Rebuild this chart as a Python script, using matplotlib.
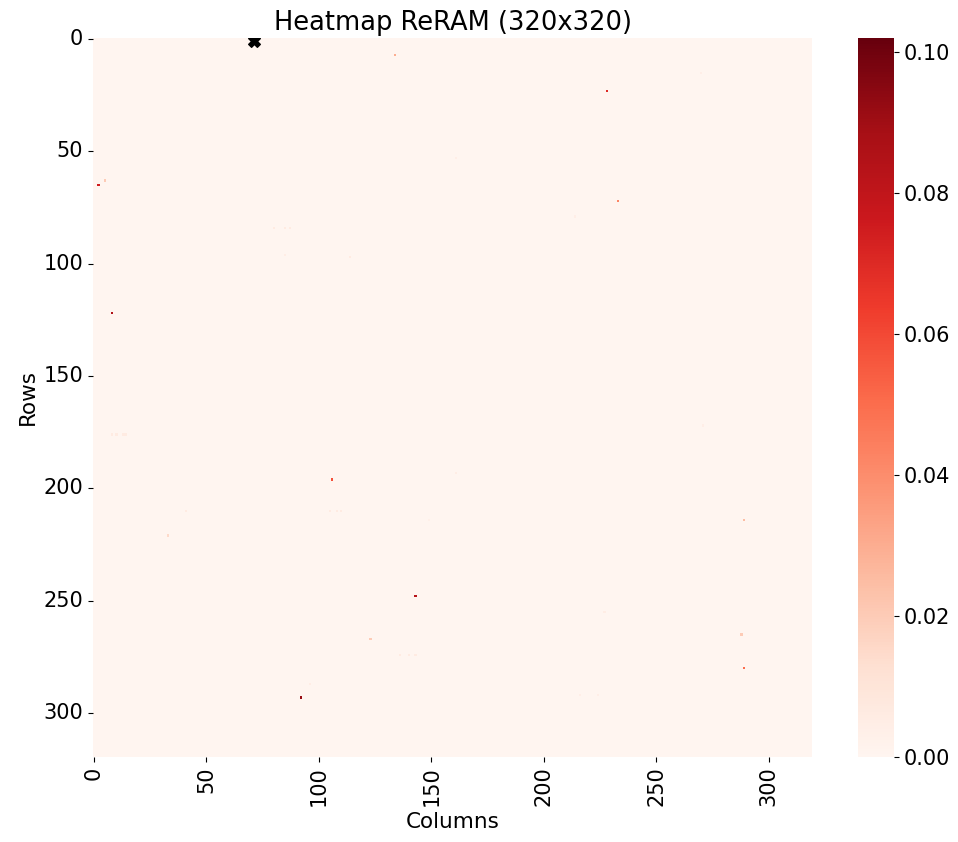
import numpy as np
import pandas as pd
import matplotlib
matplotlib.use("Agg")
import matplotlib.pyplot as plt
import seaborn as sns

# Array size and the non-zero cells
n_rows = 320
n_cols = 320
hot_rows = [1, 7, 15, 23, 53, 63, 65, 72, 79, 84, 84, 84, 96, 97, 122,
            172, 176, 176, 176, 176, 193, 196, 210, 210, 210, 210, 214, 214,
            221, 248, 255, 265, 267, 274, 274, 274, 280, 287, 292, 292, 293]
hot_cols = [71, 134, 270, 228, 161, 5, 2, 233, 214, 80, 85, 87, 85, 114, 8,
            271, 8, 10, 13, 14, 161, 106, 41, 105, 108, 110, 149, 289,
            33, 143, 227, 288, 123, 136, 140, 143, 289, 96, 216, 224, 92]
hot_vals = [0.102, 0.03, 0.004, 0.07, 0.004, 0.02, 0.075, 0.042, 0.004,
            0.006, 0.006, 0.006, 0.005, 0.006, 0.085,
            0.004, 0.006, 0.006, 0.006, 0.006, 0.005, 0.058, 0.006, 0.006,
            0.006, 0.006, 0.003, 0.025,
            0.015, 0.083, 0.005, 0.02, 0.02, 0.006, 0.006, 0.006, 0.05,
            0.005, 0.004, 0.004, 0.092]

# Position of the maximum, marked with a black X
max_row = 1
max_col = 71

grid = np.zeros((n_rows, n_cols))
grid[hot_rows, hot_cols] = hot_vals
df = pd.DataFrame(grid)

fig = plt.figure(figsize=(9.58, 8.42), dpi=100)
ax = fig.add_axes([0.097, 0.101, 0.751, 0.854])
cax = fig.add_axes([0.896, 0.101, 0.037, 0.854])

sns.heatmap(df, cmap="Reds", ax=ax, cbar_ax=cax,
            xticklabels=50, yticklabels=50)
ax.scatter([max_col + 0.5], [max_row + 0.5], marker="X", color="black", s=70, zorder=5)
ax.set_xlim(0, n_cols)
ax.set_ylim(n_rows, 0)

ax.set_title("Heatmap ReRAM (320x320)", fontsize=18.5)
ax.set_xlabel("Columns", fontsize=15.5)
ax.set_ylabel("Rows", fontsize=15.5)
ax.tick_params(axis="both", labelsize=15)
plt.setp(ax.get_xticklabels(), rotation=90)
plt.setp(ax.get_yticklabels(), rotation=0)
cax.tick_params(labelsize=15)

fig.savefig("out.png", dpi=100)
